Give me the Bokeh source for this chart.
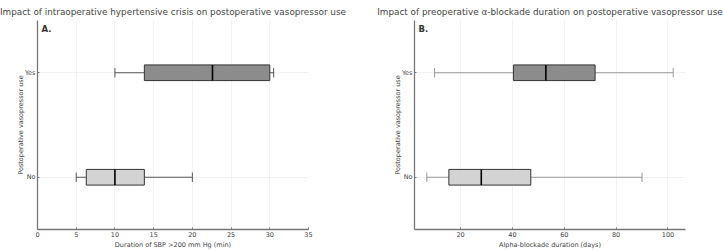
from bokeh.plotting import figure
from bokeh.layouts import row
from bokeh.models import Range1d, FixedTicker, Label, ColumnDataSource
from bokeh.embed import file_html
from bokeh.resources import INLINE

# Groups (y categories, bottom to top)
groups = ["No", "Yes"]

# Panel A: duration of SBP >200 mm Hg (min) - five-number summaries
a_low = [5.0, 10.0]
a_q1 = [6.3, 13.8]
a_med = [10.0, 22.6]
a_q3 = [13.8, 30.0]
a_high = [20.0, 30.5]

# Panel B: alpha-blockade duration (days)
b_low = [7.0, 10.0]
b_q1 = [15.5, 40.4]
b_med = [28.0, 52.9]
b_q3 = [47.1, 71.9]
b_high = [90.0, 102.0]

fills = ["#d3d3d3", "#8c8c8c"]
FONT = "DejaVu Sans"
TXT = "#444444"
AX = "#777777"


def make_panel(title, xlabel, tag, low, q1, med, q3, high, xr, ticks,
               whisker_color, left, right):
    p = figure(width=left + 271 + right, height=251,
               x_range=Range1d(*xr), y_range=Range1d(-0.5, 1.5),
               output_backend="svg", toolbar_location=None,
               min_border_left=left, min_border_right=right,
               min_border_top=20, min_border_bottom=19,
               title=title)
    p.outline_line_color = None
    p.title.text_font = FONT
    p.title.text_font_size = "8.85px"
    p.title.text_font_style = "normal"
    p.title.text_color = TXT
    p.title.align = "center"
    p.title.standoff = 8

    idx = list(range(len(groups)))
    src = ColumnDataSource(dict(y=idx, low=low, q1=q1, med=med, q3=q3,
                                high=high, fill=fills,
                                cap0=[i - 0.045 for i in idx],
                                cap1=[i + 0.045 for i in idx],
                                b0=[i - 0.075 for i in idx],
                                b1=[i + 0.075 for i in idx]))

    # whiskers and caps
    p.segment(x0="low", y0="y", x1="q1", y1="y", source=src,
              line_color=whisker_color, line_width=1)
    p.segment(x0="q3", y0="y", x1="high", y1="y", source=src,
              line_color=whisker_color, line_width=1)
    p.segment(x0="low", y0="cap0", x1="low", y1="cap1", source=src,
              line_color=whisker_color, line_width=1)
    p.segment(x0="high", y0="cap0", x1="high", y1="cap1", source=src,
              line_color=whisker_color, line_width=1)
    # boxes
    p.hbar(y="y", left="q1", right="q3", height=0.15, source=src,
           fill_color="fill", line_color="#333333", line_width=1)
    # medians
    p.segment(x0="med", y0="b0", x1="med", y1="b1", source=src,
              line_color="black", line_width=1.6)

    p.xaxis.ticker = FixedTicker(ticks=ticks)
    p.yaxis.ticker = FixedTicker(ticks=idx)
    p.yaxis.major_label_overrides = {i: g for i, g in zip(idx, groups)}
    p.xaxis.axis_label = xlabel
    p.yaxis.axis_label = "Postoperative vasopressor use"
    for ax in (p.xaxis[0], p.yaxis[0]):
        ax.axis_line_color = AX
        ax.axis_line_width = 1.3
        ax.major_tick_line_color = AX
        ax.major_tick_out = 0
        ax.major_tick_in = 2
        ax.minor_tick_line_color = None
        ax.major_label_text_font = FONT
        ax.major_label_text_font_size = "6.5px"
        ax.major_label_text_color = TXT
        ax.axis_label_text_font = FONT
        ax.axis_label_text_font_size = "6.5px"
        ax.axis_label_text_font_style = "normal"
        ax.axis_label_text_color = TXT
    p.xaxis.major_label_standoff = 2
    p.yaxis.major_label_standoff = 2
    p.xaxis.axis_label_standoff = 1
    p.yaxis.axis_label_standoff = -3
    p.grid.grid_line_color = "#ececec"
    p.grid.grid_line_width = 0.7

    p.add_layout(Label(x=4, y=196, x_units="screen", y_units="screen",
                       text=tag, text_font=FONT, text_font_size="8.5px",
                       text_font_style="bold", text_color="#333333"))
    return p


pa = make_panel("Impact of intraoperative hypertensive crisis on postoperative vasopressor use",
                "Duration of SBP >200 mm Hg (min)", "A.",
                a_low, a_q1, a_med, a_q3, a_high, (0, 35),
                [0, 5, 10, 15, 20, 25, 30, 35], "#555555", 37, 53)
pb = make_panel("Impact of preoperative \u03b1-blockade duration on postoperative vasopressor use",
                "Alpha-blockade duration (days)", "B.",
                b_low, b_q1, b_med, b_q3, b_high, (2.25, 106.75),
                [20, 40, 60, 80, 100], "#999999", 53, 38)

layout = row(pa, pb, spacing=0)
open("out.html", "w").write(file_html(layout, INLINE))
